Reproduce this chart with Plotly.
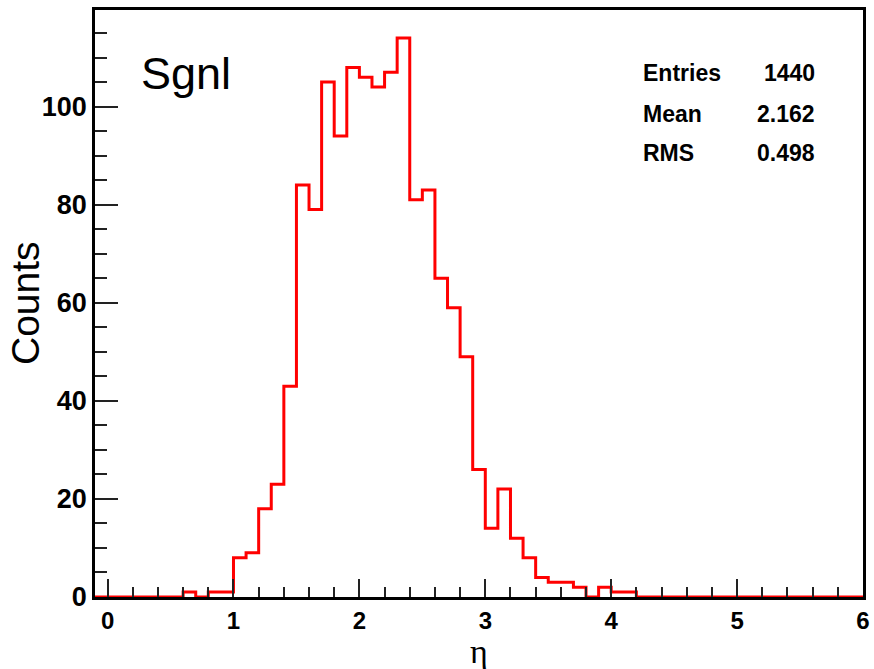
import numpy as np
import plotly.graph_objects as go

# Histogram bins (width 0.1) from -0.1 to 6.0
bin_width = 0.1
bin_low = -0.1
counts = [0, 0, 0, 0, 0, 0, 0,
          1, 0, 1, 1,
          8, 9, 18, 23, 43,
          84, 79, 105, 94, 108,
          106, 104, 107, 114, 81,
          83, 65, 59, 49, 26,
          14, 22, 12, 8, 4,
          3, 3, 2, 0, 2,
          1, 1,
          0, 0, 0, 0, 0, 0, 0, 0, 0, 0, 0, 0, 0, 0, 0, 0, 0, 0]
stat_labels = ["Entries", "Mean", "RMS"]
stat_values = ["1440", "2.162", "0.498"]
x_tick_vals = [0, 1, 2, 3, 4, 5, 6]
y_tick_vals = [0, 20, 40, 60, 80, 100]

edges = np.round(bin_low + bin_width * np.arange(len(counts) + 1), 2)
ys = counts + [counts[-1]]

W, H = 874, 669
ml, mr, mt, mb = 95, 11, 10, 72
pw = W - ml - mr
ph = H - mt - mb

fig = go.Figure()
fig.add_trace(go.Scatter(x=edges, y=ys, mode="lines", line=dict(color="#ff0000", width=3, shape="hv"),
                         showlegend=False, cliponaxis=True))

fig.update_xaxes(range=[-0.1, 6.0], tickvals=x_tick_vals, ticktext=[str(v) for v in x_tick_vals],
                 ticks="inside", ticklen=18, tickwidth=1.5, tickcolor="#222",
                 showline=True, linecolor="black", linewidth=2.5, mirror=True,
                 showgrid=False, zeroline=False,
                 tickfont=dict(family="Liberation Sans", size=24, color="black", weight="bold"),
                 minor=dict(ticks="inside", ticklen=10, dtick=0.2, tick0=0, tickwidth=1.5, tickcolor="#222", showgrid=False))
fig.update_yaxes(range=[0, 119.7], tickvals=y_tick_vals, ticktext=[str(v) for v in y_tick_vals],
                 ticks="inside", ticklen=23, tickwidth=1.5, tickcolor="#222",
                 showline=True, linecolor="black", linewidth=2.5, mirror=True,
                 showgrid=False, zeroline=False,
                 tickfont=dict(family="Liberation Sans", size=27, color="black", weight="bold"),
                 minor=dict(ticks="inside", ticklen=12, dtick=5, tick0=0, tickwidth=1.5, tickcolor="#222", showgrid=False))

def px_x(p):
    return (p - ml) / pw

def px_y(p):
    return 1 - (p - mt) / ph

ann = []
ann.append(dict(text="Counts", x=px_x(25), y=px_y(303), xref="paper", yref="paper", textangle=-90,
                showarrow=False, xanchor="center", yanchor="middle",
                font=dict(family="Liberation Sans", size=39, color="black")))
ann.append(dict(text="η", x=px_x(479), y=px_y(651), xref="paper", yref="paper",
                showarrow=False, xanchor="center", yanchor="middle",
                font=dict(family="Liberation Serif", size=34, color="black")))
ann.append(dict(text="Sgnl", x=px_x(139), y=px_y(74), xref="paper", yref="paper",
                showarrow=False, xanchor="left", yanchor="middle",
                font=dict(family="Liberation Sans", size=45, color="black")))
row_y = [73, 114, 153]
for lab, val, ry in zip(stat_labels, stat_values, row_y):
    ann.append(dict(text=lab, x=px_x(641), y=px_y(ry), xref="paper", yref="paper", showarrow=False,
                    xanchor="left", yanchor="middle",
                    font=dict(family="Liberation Sans", size=23, color="black", weight="bold")))
    ann.append(dict(text=val, x=px_x(817), y=px_y(ry), xref="paper", yref="paper", showarrow=False,
                    xanchor="right", yanchor="middle",
                    font=dict(family="Liberation Sans", size=23, color="black", weight="bold")))

fig.update_layout(width=W, height=H, margin=dict(l=ml, r=mr, t=mt, b=mb, autoexpand=False),
                  paper_bgcolor="white", plot_bgcolor="white", annotations=ann, showlegend=False)

fig.write_html("out.html")
